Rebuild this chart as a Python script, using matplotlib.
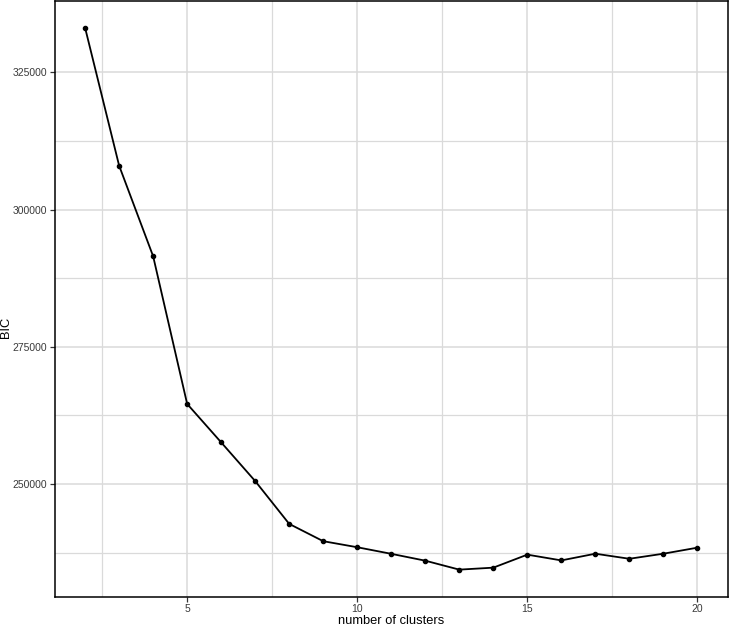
import matplotlib
matplotlib.use("Agg")
import matplotlib.pyplot as plt
from matplotlib.ticker import MultipleLocator, FixedLocator

plt.rcParams['font.family'] = ['Liberation Sans', 'DejaVu Sans']

clusters = [2, 3, 4, 5, 6, 7, 8, 9, 10, 11, 12, 13, 14, 15, 16, 17, 18, 19, 20]
bic = [333100, 308000, 291500, 264600, 257600, 250550, 242750, 239600, 238500,
       237300, 236050, 234420, 234780, 237150, 236100, 237320, 236400, 237320, 238420]

W, H = 729, 625
fig = plt.figure(figsize=(W/100, H/100), dpi=100)
ax = fig.add_axes([54.5/W, (H-596.7)/H, (728-54.5)/W, (596.7-0.8)/H])

grid_c = '#DADADA'
ax.set_xlim(1.1, 20.9)
ax.set_ylim(229490, 338030)
ax.xaxis.set_major_locator(MultipleLocator(5))
ax.xaxis.set_minor_locator(FixedLocator([2.5, 7.5, 12.5, 17.5]))
ax.yaxis.set_major_locator(MultipleLocator(25000))
ax.yaxis.set_minor_locator(FixedLocator([237500, 262500, 287500, 312500]))
ax.grid(which='major', color=grid_c, linewidth=1.1)
ax.grid(which='minor', color=grid_c, linewidth=0.9)
ax.set_axisbelow(True)

ax.plot(clusters, bic, color='black', linewidth=1.3, marker='o', markersize=3, zorder=3)

for s in ax.spines.values():
    s.set_color('black')
    s.set_linewidth(1.1)

ax.tick_params(which='major', length=3.6, width=0.9, color='#333333', labelsize=7.5,
               labelcolor='#3A3A3A', pad=1.5)
ax.tick_params(which='minor', length=0)

fig.text(391/W, 1.5/H, 'number of clusters', fontsize=9.3, ha='center', va='baseline')
fig.text(6.5/W, 298/H, 'BIC', fontsize=9.3, rotation=90, ha='center', va='center')

fig.savefig('out.png', dpi=100)
